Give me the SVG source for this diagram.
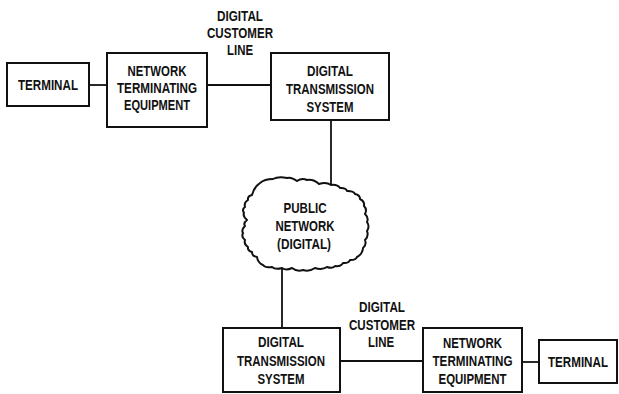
<svg xmlns="http://www.w3.org/2000/svg" width="619" height="394" viewBox="0 0 619 394">
  <style>
    .box { fill: #ffffff; stroke: #111111; stroke-width: 2; }
    .cloud { fill: #ffffff; stroke: #111111; stroke-width: 2; stroke-linejoin: round; }
    .wire { fill: none; stroke: #111111; stroke-width: 1.8; }
    text { font-family: "Liberation Sans", Arial, sans-serif; font-weight: bold; font-size: 14.5px; fill: #111111; text-anchor: middle; }
  </style>
  <rect width="619" height="394" fill="#ffffff"/>

  <!-- connectors -->
  <g id="connectors">
    <line class="wire" x1="89" y1="85" x2="107" y2="85"/>
    <line class="wire" x1="207" y1="85" x2="271" y2="85"/>
    <line class="wire" x1="331" y1="120" x2="331" y2="185"/>
    <line class="wire" x1="282" y1="268" x2="282" y2="328"/>
    <line class="wire" x1="340" y1="361" x2="423" y2="361"/>
    <line class="wire" x1="522" y1="362" x2="539" y2="362"/>
  </g>

  <!-- line label, upper -->
  <g id="label-line-top">
    <text x="240" y="21" textLength="46" lengthAdjust="spacingAndGlyphs">DIGITAL</text>
    <text x="240" y="38" textLength="66" lengthAdjust="spacingAndGlyphs">CUSTOMER</text>
    <text x="240" y="55" textLength="26" lengthAdjust="spacingAndGlyphs">LINE</text>
  </g>

  <!-- line label, lower -->
  <g id="label-line-bottom">
    <text x="382" y="312" textLength="46" lengthAdjust="spacingAndGlyphs">DIGITAL</text>
    <text x="382" y="330" textLength="66" lengthAdjust="spacingAndGlyphs">CUSTOMER</text>
    <text x="381" y="347" textLength="26" lengthAdjust="spacingAndGlyphs">LINE</text>
  </g>

  <g id="terminal-1">
    <rect class="box" x="7" y="63" width="82" height="43"/>
    <text x="48" y="90" textLength="60" lengthAdjust="spacingAndGlyphs">TERMINAL</text>
  </g>

  <g id="nte-1">
    <rect class="box" x="107" y="53" width="100" height="74"/>
    <text x="157" y="76" textLength="59" lengthAdjust="spacingAndGlyphs">NETWORK</text>
    <text x="157" y="93" textLength="80" lengthAdjust="spacingAndGlyphs">TERMINATING</text>
    <text x="157" y="110" textLength="66" lengthAdjust="spacingAndGlyphs">EQUIPMENT</text>
  </g>

  <g id="dts-1">
    <rect class="box" x="271" y="53" width="118" height="67"/>
    <text x="330" y="76" textLength="46" lengthAdjust="spacingAndGlyphs">DIGITAL</text>
    <text x="330" y="94" textLength="88" lengthAdjust="spacingAndGlyphs">TRANSMISSION</text>
    <text x="330" y="112" textLength="47" lengthAdjust="spacingAndGlyphs">SYSTEM</text>
  </g>

  <g id="public-network">
    <path class="cloud" d="M252,195 Q254,187 260,183 Q264.5,179 273,179 Q278.6,175.9 287,178 Q291.2,176.6 297,181 Q301.8,177.5 307,180 Q313.6,179 319,184 Q326.4,181.8 331,185 Q337.4,184.2 340,188 Q345.7,187.5 347,191 Q353.5,190.8 355,194 Q360.2,195.1 360,199 Q364.8,201.4 364,206 Q367.4,209.3 365,214 Q369,217.7 367,222 Q370,226.6 367,231 Q369,236 365,240 Q366.8,245 363,248 Q362.7,253.9 357,257 Q355.9,260.2 350,260 Q348.7,263.5 343,263 Q340.9,266.8 335,266 Q332.6,269 327,267 Q322,270.3 315,268 Q309.3,272 303,270 Q297,272 292,268 Q285.9,270.8 282,268 Q275.4,270 272,267 Q265.5,268.3 263,265 Q257.7,262.9 257,257 Q251.9,256.1 252,252 Q247.3,250.8 248,247 Q243.7,244.5 245,240 Q241,237.1 243,233 Q241,229.8 245,226 Q243,223 247,220 Q242.5,216.1 244,213 Q241.6,209.3 245,207 Q243.7,202.5 248,200 Q247.3,196.2 252,195 Z"/>
    <text x="305" y="213" textLength="43" lengthAdjust="spacingAndGlyphs">PUBLIC</text>
    <text x="305" y="231" textLength="59" lengthAdjust="spacingAndGlyphs">NETWORK</text>
    <text x="304" y="249" textLength="54" lengthAdjust="spacingAndGlyphs">(DIGITAL)</text>
  </g>

  <g id="dts-2">
    <rect class="box" x="223" y="328" width="117" height="64"/>
    <text x="281" y="347" textLength="46" lengthAdjust="spacingAndGlyphs">DIGITAL</text>
    <text x="281" y="366" textLength="88" lengthAdjust="spacingAndGlyphs">TRANSMISSION</text>
    <text x="281" y="384" textLength="47" lengthAdjust="spacingAndGlyphs">SYSTEM</text>
  </g>

  <g id="nte-2">
    <rect class="box" x="423" y="328" width="99" height="64"/>
    <text x="472.5" y="348" textLength="59" lengthAdjust="spacingAndGlyphs">NETWORK</text>
    <text x="472.5" y="366" textLength="80" lengthAdjust="spacingAndGlyphs">TERMINATING</text>
    <text x="472.5" y="384" textLength="68" lengthAdjust="spacingAndGlyphs">EQUIPMENT</text>
  </g>

  <g id="terminal-2">
    <rect class="box" x="539" y="340" width="78" height="43"/>
    <text x="578" y="367" textLength="60" lengthAdjust="spacingAndGlyphs">TERMINAL</text>
  </g>
</svg>
